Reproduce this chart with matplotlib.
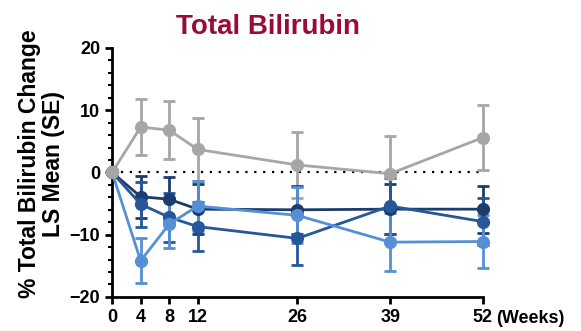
import matplotlib
matplotlib.use("Agg")
import matplotlib.pyplot as plt
from matplotlib.ticker import MultipleLocator

plt.rcParams['font.family'] = ['Liberation Sans', 'DejaVu Sans']
plt.rcParams['font.weight'] = 'bold'

# Données
weeks = [0, 4, 8, 12, 26, 39, 52]

gris = [0, 7.3, 6.8, 3.7, 1.2, -0.2, 5.6]
gris_se = [0, 4.5, 4.7, 5.0, 5.3, 6.0, 5.2]

fonce = [0, -3.9, -4.3, -5.9, -6.0, -5.9, -5.9]
fonce_se = [0, 3.4, 3.5, 4.0, 3.9, 4.0, 3.8]

moyen = [0, -5.1, -7.2, -8.7, -10.6, -5.4, -7.9]
moyen_se = [0, 3.6, 3.9, 4.0, 4.2, 4.5, 3.8]

clair = [0, -14.2, -8.3, -5.4, -6.9, -11.2, -11.1]
clair_se = [0, 3.6, 3.8, 4.0, 4.5, 4.7, 4.2]

fig = plt.figure(figsize=(5.81, 3.31), dpi=100)
ax = fig.add_axes([0.193, 0.103, 0.638, 0.752])

ax.plot([0, 52], [0, 0], color="black", linestyle=(0, (1, 3)), linewidth=1.6, zorder=1)

series = [
    (gris, gris_se, "#A6A6A6"),
    (fonce, fonce_se, "#1C3D6B"),
    (moyen, moyen_se, "#25579A"),
    (clair, clair_se, "#5590D6"),
]
for vals, se, col in series:
    ax.errorbar(weeks, vals, yerr=se, color=col, marker="o", markersize=8.5,
                linewidth=2, elinewidth=2, capsize=4, capthick=2, zorder=3,
                clip_on=False)
# le point de départ gris par-dessus
ax.plot([0], [0], marker="o", markersize=8.5, color="#A6A6A6", zorder=5, clip_on=False)

ax.set_xlim(0, 52)
ax.set_ylim(-20, 20)
ax.set_xticks(weeks)
ax.set_yticks([-20, -10, 0, 10, 20])
ax.yaxis.set_minor_locator(MultipleLocator(2))
ax.tick_params(axis="both", which="major", labelsize=13, width=2, length=5)
ax.tick_params(axis="y", which="minor", width=1.5, length=3)
ax.tick_params(axis="x", pad=4)
for lab in ax.get_xticklabels() + ax.get_yticklabels():
    lab.set_fontweight("bold")

ax.spines["top"].set_visible(False)
ax.spines["right"].set_visible(False)
ax.spines["left"].set_linewidth(2)
ax.spines["bottom"].set_linewidth(2)

ax.set_ylabel("% Total Bilirubin Change\nLS Mean (SE)", fontsize=16.5, fontweight="bold",
              linespacing=1.05, va="center")
ax.yaxis.set_label_coords(-0.19, 0.535)
ax.text(1.035, -0.087, "(Weeks)", transform=ax.transAxes, fontsize=13, fontweight="bold",
        va="center", ha="left")
ax.set_title("Total Bilirubin", fontsize=20, fontweight="bold", color="#9B0B3A", pad=10, x=0.42)

fig.savefig("out.png", dpi=100)
